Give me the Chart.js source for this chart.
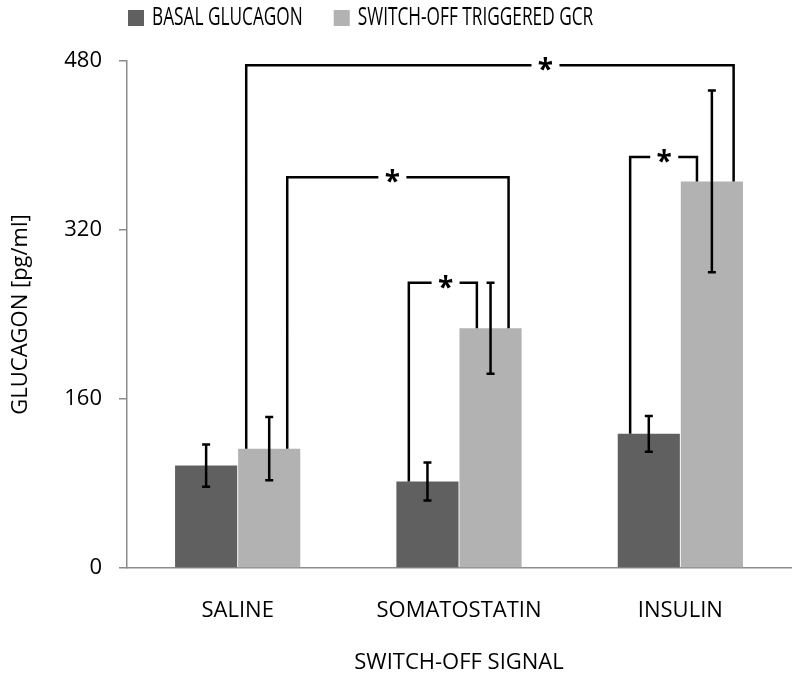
<!DOCTYPE html>
<html>
<head>
<meta charset="utf-8">
<script src="https://cdn.jsdelivr.net/npm/chart.js@4.4.1/dist/chart.umd.min.js"></script>
<style>
  html, body { margin: 0; padding: 0; background: #fff; }
  #wrap { width: 800px; height: 679px; }
</style>
</head>
<body>
<div id="wrap"><canvas id="glucagonChart" width="800" height="679"></canvas></div>
<script>
// données
const categories = ['SALINE', 'SOMATOSTATIN', 'INSULIN'];
const seriesNames = ['BASAL GLUCAGON', 'SWITCH-OFF TRIGGERED GCR'];
const basalValues = [97, 82, 127];
const basalErrors = [20, 18, 17];
const gcrValues = [113, 227, 366];
const gcrErrors = [30, 43, 86];
const yTicks = [0, 160, 320, 480];

const darkGrey = '#606060';
const lightGrey = '#b2b2b2';
const FONT = '"Open Sans", "DejaVu Sans", sans-serif';

// crochets de significativité : barre (dataset, catégorie), décalage dans la barre, hauteur
const brackets = [
  { a: { ds: 1, i: 0, off: -0.37 }, b: { ds: 1, i: 2, off: 0.35 }, level: 476, starAt: 0.614 },
  { a: { ds: 1, i: 0, off: 0.29 }, b: { ds: 1, i: 1, off: 0.29 }, level: 370, starAt: 0.475 },
  { a: { ds: 0, i: 1, off: -0.3 }, b: { ds: 1, i: 1, off: -0.22 }, level: 270, starAt: 0.54 },
  { a: { ds: 0, i: 2, off: -0.3 }, b: { ds: 1, i: 2, off: -0.24 }, level: 389, starAt: 0.51 }
];

const errorBarsPlugin = {
  id: 'errorBars',
  afterDatasetsDraw(chart) {
    const ctx = chart.ctx;
    const y = chart.scales.y;
    const errs = [basalErrors, gcrErrors];
    ctx.save();
    ctx.strokeStyle = '#000';
    ctx.lineWidth = 2.5;
    chart.data.datasets.forEach((ds, d) => {
      chart.getDatasetMeta(d).data.forEach((bar, i) => {
        const hi = y.getPixelForValue(ds.data[i] + errs[d][i]);
        const lo = y.getPixelForValue(ds.data[i] - errs[d][i]);
        ctx.beginPath();
        ctx.moveTo(bar.x, hi); ctx.lineTo(bar.x, lo);
        ctx.moveTo(bar.x - 4, hi); ctx.lineTo(bar.x + 4, hi);
        ctx.moveTo(bar.x - 4, lo); ctx.lineTo(bar.x + 4, lo);
        ctx.stroke();
      });
    });
    ctx.restore();
  }
};

const bracketPlugin = {
  id: 'brackets',
  afterDatasetsDraw(chart) {
    const ctx = chart.ctx;
    const y = chart.scales.y;
    const pt = (p) => {
      const bar = chart.getDatasetMeta(p.ds).data[p.i];
      return { x: bar.x + p.off * bar.width, y: bar.y };
    };
    ctx.save();
    ctx.strokeStyle = '#000';
    ctx.lineWidth = 2.5;
    ctx.fillStyle = '#000';
    ctx.font = 'bold 28px ' + FONT;
    ctx.textAlign = 'center';
    ctx.textBaseline = 'alphabetic';
    brackets.forEach(b => {
      const p1 = pt(b.a), p2 = pt(b.b);
      const ly = y.getPixelForValue(b.level);
      const sx = p1.x + (p2.x - p1.x) * b.starAt;
      ctx.beginPath();
      ctx.moveTo(p1.x, p1.y); ctx.lineTo(p1.x, ly); ctx.lineTo(sx - 14, ly);
      ctx.moveTo(sx + 14, ly); ctx.lineTo(p2.x, ly); ctx.lineTo(p2.x, p2.y);
      ctx.stroke();
      ctx.fillText('*', sx, ly + 14);
    });
    ctx.restore();
  }
};

// légende dessinée à la main (texte condensé comme l'original)
const legendPlugin = {
  id: 'topLegend',
  afterDraw(chart) {
    const ctx = chart.ctx;
    const squeeze = 0.69;
    let x = 128;
    ctx.save();
    ctx.font = '25px ' + FONT;
    ctx.textBaseline = 'middle';
    chart.data.datasets.forEach(ds => {
      ctx.fillStyle = ds.backgroundColor;
      ctx.fillRect(x, 10, 16, 16);
      const tx = x + 24;
      ctx.fillStyle = '#000';
      ctx.save();
      ctx.translate(tx, 18);
      ctx.scale(squeeze, 1);
      ctx.fillText(ds.label, 0, 0);
      ctx.restore();
      x = tx + ctx.measureText(ds.label).width * squeeze + 31;
    });
    ctx.restore();
  }
};

const chart = new Chart(document.getElementById('glucagonChart'), {
  type: 'bar',
  data: {
    labels: categories,
    datasets: [
      { label: seriesNames[0], data: basalValues, backgroundColor: darkGrey },
      { label: seriesNames[1], data: gcrValues, backgroundColor: lightGrey }
    ]
  },
  options: {
    responsive: false,
    animation: false,
    categoryPercentage: 0.57,
    barPercentage: 0.985,
    layout: { padding: { top: 61, right: 9, left: 0, bottom: 0 } },
    plugins: {
      legend: { display: false },
      tooltip: { enabled: false }
    },
    scales: {
      x: {
        grid: { display: false, drawTicks: false },
        border: { display: true, color: '#8c8c8c', width: 1.5 },
        ticks: { color: '#000', font: { family: FONT, size: 22 }, padding: 30 },
        title: { display: true, text: 'SWITCH-OFF SIGNAL', color: '#000',
                 font: { family: FONT, size: 22 }, padding: { top: 0, bottom: 3 } },
        afterFit(scale) { scale.height = 111; }
      },
      y: {
        min: 0,
        max: 480,
        afterBuildTicks(scale) { scale.ticks = yTicks.map(v => ({ value: v })); },
        grid: { drawOnChartArea: false, drawTicks: true, tickLength: 8, color: '#8c8c8c', lineWidth: 1.5 },
        border: { display: true, color: '#8c8c8c', width: 1.5 },
        ticks: { color: '#000', font: { family: FONT, size: 22 }, padding: 17 },
        title: { display: true, text: 'GLUCAGON [pg/ml]', color: '#000',
                 font: { family: FONT, size: 22 }, padding: { top: 8, bottom: 0 } },
        afterFit(scale) { scale.width = 127; }
      }
    }
  },
  plugins: [errorBarsPlugin, bracketPlugin, legendPlugin]
});
</script>
</body>
</html>
